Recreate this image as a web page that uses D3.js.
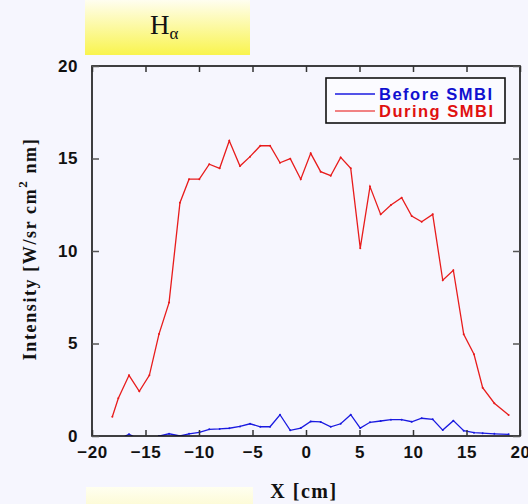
<!DOCTYPE html>
<html><head><meta charset="utf-8">
<script src="https://cdn.jsdelivr.net/npm/d3@7"></script>
<style>body{margin:0;background:#f6f6fe;}svg{display:block;}</style>
</head><body>
<svg id="c" width="528" height="504"></svg>
<script>
const xs = [-18.10,-17.54,-16.54,-15.58,-14.64,-13.74,-12.80,-11.78,-10.93,-9.97,-9.04,-8.07,-7.17,-6.17,-5.23,-4.27,-3.36,-2.43,-1.47,-0.49,0.44,1.37,2.31,3.24,4.18,5.07,5.98,6.98,7.94,8.94,9.88,10.81,11.84,12.78,13.77,14.74,15.70,16.51,17.60,18.94];
const during = [1.04,2.04,3.28,2.42,3.28,5.51,7.21,12.61,13.88,13.88,14.69,14.47,15.96,14.59,15.10,15.69,15.69,14.77,14.99,13.88,15.28,14.29,14.07,15.06,14.47,10.15,13.48,11.98,12.49,12.88,11.89,11.58,11.98,8.42,8.96,5.50,4.42,2.61,1.77,1.14];
const before = [-0.3,-0.2,0.1,-0.2,-0.25,0.0,0.12,0.0,0.12,0.2,0.36,0.38,0.42,0.52,0.66,0.50,0.50,1.15,0.31,0.43,0.79,0.76,0.50,0.66,1.15,0.43,0.74,0.81,0.88,0.88,0.77,0.96,0.90,0.32,0.83,0.29,0.18,0.15,0.12,0.09];
const seriesNames = ["Before SMBI","During SMBI"];
const seriesColors = ["#1a1ae0","#e81c1c"];
const xTicks = [-20,-15,-10,-5,0,5,10,15,20];
const yTicks = [0,5,10,15,20];

const svg = d3.select("#c");
const L=92, R=520, T=66, B=436;
const x = d3.scaleLinear().domain([-20,20]).range([L,R]);
const y = d3.scaleLinear().domain([0,20]).range([B,T]);

const defs = svg.append("defs");
const g1 = defs.append("linearGradient").attr("id","yg").attr("x1",0).attr("y1",0).attr("x2",0).attr("y2",1);
g1.append("stop").attr("offset","0%").attr("stop-color","#fffef0");
g1.append("stop").attr("offset","100%").attr("stop-color","#f9f44e");
const g2 = defs.append("linearGradient").attr("id","yg2").attr("x1",0).attr("y1",0).attr("x2",0).attr("y2",1);
g2.append("stop").attr("offset","0%").attr("stop-color","#fffff0");
g2.append("stop").attr("offset","100%").attr("stop-color","#fdfbd8");
defs.append("clipPath").attr("id","clip").append("rect").attr("x",L).attr("y",T).attr("width",R-L).attr("height",B-T);

svg.append("rect").attr("x",85).attr("y",0).attr("width",165).attr("height",55).attr("fill","url(#yg)");
svg.append("rect").attr("x",86).attr("y",487).attr("width",167).attr("height",17).attr("fill","url(#yg2)");

const title = svg.append("text").attr("x",150).attr("y",34).attr("font-family","'Liberation Serif','DejaVu Serif',serif").attr("font-size",27).attr("fill","#111");
title.append("tspan").text("H");
title.append("tspan").attr("font-size",17).attr("dy",5).text("α");

// series
const line = d3.line().x((d,i)=>x(xs[i])).y(d=>y(d));
const pg = svg.append("g").attr("clip-path","url(#clip)");
[before,during].forEach((s,k)=>{
  pg.append("path").datum(s).attr("d",line).attr("fill","none").attr("stroke",seriesColors[k]).attr("stroke-width",1.3);
  pg.selectAll(null).data(s).enter().append("circle").attr("cx",(d,i)=>x(xs[i])).attr("cy",d=>y(d)).attr("r",1).attr("fill",seriesColors[k]);
});

// frame
svg.append("rect").attr("x",L).attr("y",T).attr("width",R-L).attr("height",B-T).attr("fill","none").attr("stroke","#111").attr("stroke-width",1.6);

const tickFont = "'Liberation Sans',Arial,sans-serif";
const ax = svg.append("g").attr("transform",`translate(0,${B})`).call(d3.axisBottom(x).tickValues(xTicks).tickSizeInner(-6).tickSizeOuter(0).tickPadding(10).tickFormat(d=>d<0?"\u2212"+Math.abs(d):d));
ax.select(".domain").remove();
ax.selectAll("line").attr("stroke","#333").attr("stroke-width",1.5);
ax.selectAll("text").attr("font-family",tickFont).attr("font-weight","bold").attr("font-size",17).attr("fill","#111").attr("letter-spacing",0.5);
const axt = svg.append("g").attr("transform",`translate(0,${T})`).call(d3.axisTop(x).tickValues(xTicks).tickSizeInner(-6).tickSizeOuter(0).tickFormat(""));
axt.select(".domain").remove();
axt.selectAll("line").attr("stroke","#333").attr("stroke-width",1.5);

const ay = svg.append("g").attr("transform",`translate(${L},0)`).call(d3.axisLeft(y).tickValues(yTicks).tickSizeInner(-7).tickSizeOuter(0).tickPadding(14));
ay.select(".domain").remove();
ay.selectAll("line").attr("stroke","#555").attr("stroke-width",1.5);
ay.selectAll("text").attr("font-family",tickFont).attr("font-weight","bold").attr("font-size",17).attr("fill","#111").attr("letter-spacing",0.5);
const ayr = svg.append("g").attr("transform",`translate(${R},0)`).call(d3.axisRight(y).tickValues(yTicks).tickSizeInner(-7).tickSizeOuter(0).tickFormat(""));
ayr.select(".domain").remove();
ayr.selectAll("line").attr("stroke","#555").attr("stroke-width",1.5);

// axis titles
svg.append("text").attr("x",304).attr("y",498).attr("text-anchor","middle").attr("font-family","'Liberation Serif','DejaVu Serif',serif").attr("font-weight","bold").attr("font-size",20).attr("letter-spacing",1.5).attr("fill","#111").text("X [cm]");
const yt = svg.append("text").attr("transform","translate(36,249) rotate(-90)").attr("text-anchor","middle").attr("font-family","'Liberation Serif','DejaVu Serif',serif").attr("font-weight","bold").attr("font-size",18).attr("fill","#111").attr("letter-spacing",1.6);
yt.append("tspan").text("Intensity [W/sr cm");
yt.append("tspan").attr("font-size",13).attr("dy",-9).text("2");
yt.append("tspan").attr("dy",9).text(" nm]");

// legend
const lg = svg.append("g");
lg.append("rect").attr("x",326).attr("y",78).attr("width",179).attr("height",45).attr("fill","#fbfbff").attr("stroke","#111").attr("stroke-width",1.6);
seriesNames.forEach((n,k)=>{
  const yy = 94 + k*17;
  lg.append("line").attr("x1",335).attr("x2",375).attr("y1",yy).attr("y2",yy).attr("stroke",k?"#ee5a5a":seriesColors[k]).attr("stroke-width",1.3);
  lg.append("text").attr("x",379).attr("y",yy+6).attr("font-family",tickFont).attr("font-weight","bold").attr("font-size",16.5).attr("letter-spacing",1.5).attr("fill",k?"#e01010":"#1010d0").text(n);
});
</script>
</body></html>
